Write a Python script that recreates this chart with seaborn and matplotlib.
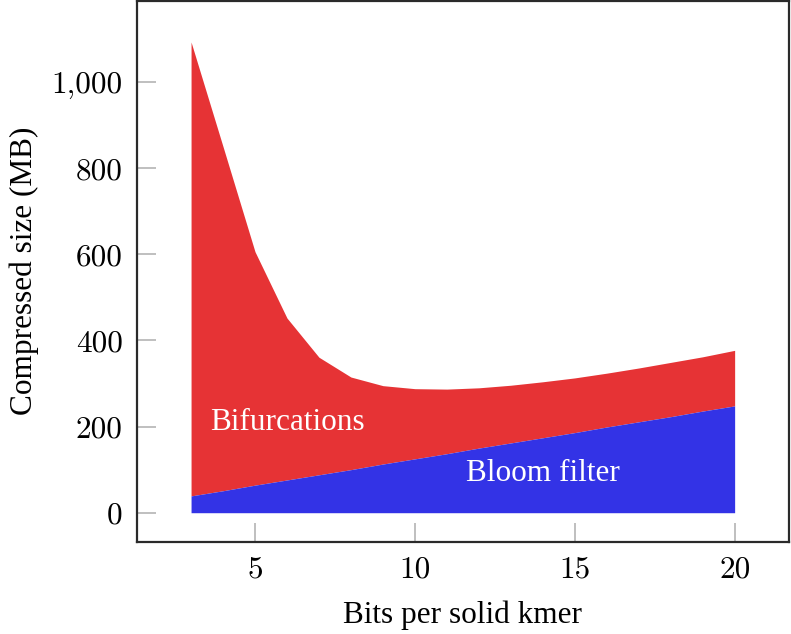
import matplotlib
matplotlib.use("Agg")
import matplotlib.pyplot as plt
import seaborn as sns
import pandas as pd
from matplotlib.ticker import FuncFormatter

bits = [3, 4, 5, 6, 7, 8, 9, 10, 11, 12, 13, 14, 15, 16, 17, 18, 19, 20]
bloom_filter = [39, 51, 64, 76, 88, 100, 113, 125, 137, 150, 162, 174, 186, 199, 211, 223, 236, 248]
bifurcations = [1054, 799, 542, 376, 273, 215, 182, 163, 150, 140, 134, 130, 127, 125, 125, 126, 126, 129]
x_ticks = [5, 10, 15, 20]
y_ticks = [0, 200, 400, 600, 800, 1000]

df = pd.DataFrame({"bits": bits, "bloom": bloom_filter, "bif": bifurcations})
df["total"] = df["bloom"] + df["bif"]

sns.set_style("white")
plt.rcParams["font.family"] = ["Liberation Serif", "DejaVu Serif"]
plt.rcParams["text.color"] = "black"
plt.rcParams["axes.labelcolor"] = "black"

fig = plt.figure(figsize=(7.91, 6.34), dpi=100)
ax = fig.add_axes([136.7 / 791, 1 - 541.7 / 634, (789 - 136.7) / 791, (541.7 - 0.7) / 634])

red = "#E63335"
blue = "#3333E6"

sns.lineplot(data=df, x="bits", y="bloom", ax=ax, color=blue, linewidth=0)
sns.lineplot(data=df, x="bits", y="total", ax=ax, color=red, linewidth=0)
ax.fill_between(df["bits"], df["bloom"], df["total"], color=red, linewidth=0)
ax.fill_between(df["bits"], 0, df["bloom"], color=blue, linewidth=0)

ax.set_xlim(1.3, 21.7)
ax.set_ylim(-67.3, 1188.8)
ax.set_xticks(x_ticks)
ax.set_yticks(y_ticks)
ax.xaxis.set_major_formatter(FuncFormatter(lambda v, p: f"{int(v)}"))
ax.yaxis.set_major_formatter(FuncFormatter(lambda v, p: f"{int(v):,}"))

ax.tick_params(axis="both", direction="in", length=14, width=1.2, color="#b4b4b4",
               labelsize=22.5, pad=10, bottom=True, left=True, top=False, right=False,
               labelfontfamily="cmr10", labelcolor="black")

for s in ax.spines.values():
    s.set_color("#2a2a2a")
    s.set_linewidth(1.6)

ax.set_xlabel("Bits per solid kmer", fontsize=22.5, labelpad=12, color="black")
ax.set_ylabel("Compressed size (MB)", fontsize=22.5, labelpad=9, color="black")

ax.text(6, 210, "Bifurcations", color="white", fontsize=22.5, ha="center", va="center")
ax.text(14, 92, "Bloom filter", color="white", fontsize=22.5, ha="center", va="center")

fig.savefig("out.png", dpi=100)
